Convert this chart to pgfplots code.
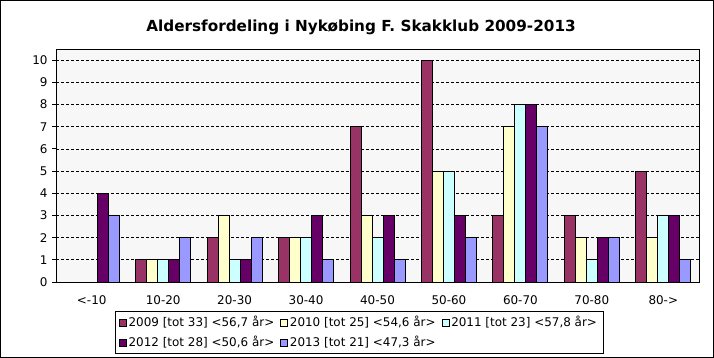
\documentclass[border=0pt]{standalone}
\usepackage{fontspec}
\setmainfont{DejaVu Sans}
\usepackage{pgfplots}
\usepackage{pgfplotstable}
\pgfplotsset{compat=1.18}
\definecolor{c2009}{HTML}{993366}
\definecolor{c2010}{HTML}{FFFFCC}
\definecolor{c2011}{HTML}{CCFFFF}
\definecolor{c2012}{HTML}{660066}
\definecolor{c2013}{HTML}{9999FF}
\definecolor{plotbg}{HTML}{F7F7F7}
\pgfplotstableread{
x y2009 y2010 y2011 y2012 y2013
0 0 0 0 4 3
1 1 1 1 1 2
2 2 3 1 1 2
3 2 2 2 3 1
4 7 3 2 3 1
5 10 5 5 3 2
6 3 7 8 8 7
7 3 2 1 2 2
8 5 2 3 3 1
}\datatable
\begin{document}
\begin{tikzpicture}
\useasboundingbox (0,0) rectangle (714bp,358bp);
\draw[line width=1bp] (0.5bp,0.5bp) rectangle (713.5bp,357.5bp);
\node[font=\bfseries\fontsize{15.3}{18}\selectfont, anchor=base, inner sep=0pt] at (361bp,326bp) {Aldersfordeling i Nykøbing F. Skakklub 2009-2013};
\begin{axis}[
  at={(56bp,76bp)}, anchor=south west,
  scale only axis, width=643bp, height=233bp,
  xmin=-0.5, xmax=8.5, ymin=0, ymax=10.5,
  ybar=0pt, bar width=11bp,
  axis background/.style={fill=plotbg},
  axis line style={black, line width=0.8bp},
  xtick={0,...,8},
  xticklabels={<-10,10-20,20-30,30-40,40-50,50-60,60-70,70-80,80->},
  xtick style={draw=none},
  minor xtick={-0.5,0.5,...,8.5},
  minor x tick style={black, line width=0.8bp},
  minor tick length=6bp,
  ytick={0,...,10},
  ytick style={black, line width=0.8bp},
  major tick length=4bp,
  tick align=outside,
  xtick pos=bottom, ytick pos=left,
  ymajorgrids,
  grid style={black, line width=0.7bp, dash pattern=on 3bp off 2bp},
  tick label style={font=\fontsize{12}{14}\selectfont},
  /pgf/number format/assume math mode=true,
  xticklabel style={yshift=-6bp},
  yticklabel style={xshift=-1bp},
  legend columns=3,
  legend cell align=left,
  legend style={at={(axis description cs:0.5,0)}, anchor=north, xshift=-18.5bp, yshift=-29bp,
    draw=black, line width=0.8bp, font=\fontsize{12}{14}\selectfont,
    inner xsep=4bp, inner ysep=3bp, row sep=4bp,
    /tikz/every even column/.append style={column sep=4bp}},
  legend image code/.code={\draw[#1,line width=0.6bp] (0bp,-3.5bp) rectangle (7bp,3.5bp);},
  every axis plot/.append style={draw=black, line width=0.8bp},
]
\addplot[fill=c2009] table[x=x,y=y2009] {\datatable};
\addplot[fill=c2010] table[x=x,y=y2010] {\datatable};
\addplot[fill=c2011] table[x=x,y=y2011] {\datatable};
\addplot[fill=c2012] table[x=x,y=y2012] {\datatable};
\addplot[fill=c2013] table[x=x,y=y2013] {\datatable};
\legend{{2009 [tot 33] <56,7 år>},{2010 [tot 25] <54,6 år>},{2011 [tot 23] <57,8 år>},{2012 [tot 28] <50,6 år>},{2013 [tot 21] <47,3 år>}}
\end{axis}
\end{tikzpicture}
\end{document}
